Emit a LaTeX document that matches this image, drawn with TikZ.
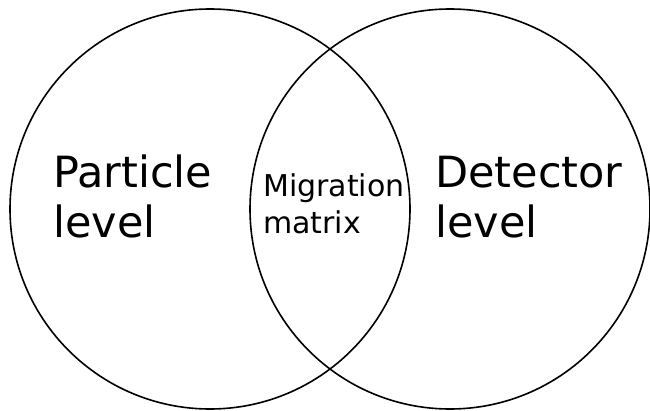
\documentclass[tikz,border=0pt]{standalone}
\usepackage{fontspec}
\setmainfont{DejaVu Sans}
\begin{document}
\begin{tikzpicture}[x=1pt,y=1pt,
  setcircle/.style={draw=black,line width=1.6pt},
  biglabel/.style={inner sep=0pt,anchor=base west,align=left,
    font=\fontsize{43}{50}\selectfont},
  smalllabel/.style={inner sep=0pt,anchor=base west,align=left,
    font=\fontsize{30}{37}\selectfont}]
  \useasboundingbox (0,0) rectangle (650,410);
  % two overlapping sets
  \draw[setcircle] (210,201) circle[radius=200];
  \draw[setcircle] (450,201) circle[radius=200];
  % labels (anchored at the baseline of their last line)
  \node[biglabel] (particle) at (53,173) {Particle\\level};
  \node[smalllabel] (migration) at (263,176) {Migration\\matrix};
  \node[biglabel] (detector) at (435,172) {Detector\\level};
\end{tikzpicture}
\end{document}
